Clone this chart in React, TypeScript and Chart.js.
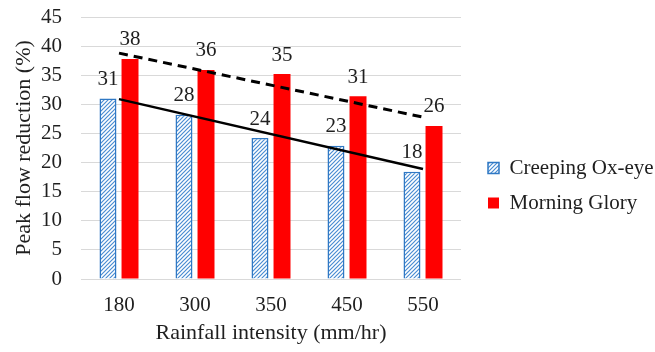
import React, { useEffect, useRef } from "react";
import { Chart, registerables } from "chart.js";

Chart.register(...registerables);

const categories = ["180", "300", "350", "450", "550"];
const creepingOxEye = [31, 28.2, 24.2, 22.9, 18.4];
const morningGlory = [37.8, 35.9, 35.2, 31.4, 26.3];
const creepingTrend = [30.9, null, null, null, 18.9];
const morningTrend = [38.8, null, null, null, 27.8];
const yTicks = [0, 5, 10, 15, 20, 25, 30, 35, 40, 45];

const FONT = "'Liberation Serif', 'Times New Roman', serif";
const TEXT = "#1f1f1f";

function makeHatch(): CanvasPattern | string {
  const n = 4;
  const c = document.createElement("canvas");
  c.width = n;
  c.height = n;
  const g = c.getContext("2d");
  if (!g) return "#9dc3e6";
  g.fillStyle = "#ffffff";
  g.fillRect(0, 0, n, n);
  g.strokeStyle = "#4a8cd2";
  g.lineWidth = 1.2;
  g.beginPath();
  g.moveTo(0, n);
  g.lineTo(n, 0);
  g.moveTo(-1, 1);
  g.lineTo(1, -1);
  g.moveTo(n - 1, n + 1);
  g.lineTo(n + 1, n - 1);
  g.stroke();
  return g.createPattern(c, "repeat") || "#9dc3e6";
}

const valueLabels = {
  id: "valueLabels",
  afterDatasetsDraw(chart: any) {
    const ctx = chart.ctx;
    ctx.save();
    ctx.font = `21px ${FONT}`;
    ctx.fillStyle = TEXT;
    ctx.textAlign = "center";
    ctx.textBaseline = "middle";
    chart.data.datasets.forEach((ds: any, i: number) => {
      if (ds.type !== "bar") return;
      const meta = chart.getDatasetMeta(i);
      meta.data.forEach((el: any, j: number) => {
        const v = ds.data[j];
        ctx.fillText(String(Math.round(v)), el.x, el.y - 19);
      });
    });
    ctx.restore();
  },
};

export default function App() {
  const ref = useRef<HTMLCanvasElement | null>(null);

  useEffect(() => {
    if (!ref.current) return;
    const hatch = makeHatch();
    const chart = new Chart(ref.current, {
      type: "bar",
      data: {
        labels: categories,
        datasets: [
          {
            type: "line",
            label: "trendCreeping",
            data: creepingTrend,
            borderColor: "#000000",
            borderWidth: 2.5,
            pointRadius: 0,
            spanGaps: true,
            fill: false,
            order: 0,
          } as any,
          {
            type: "line",
            label: "trendMorning",
            data: morningTrend,
            borderColor: "#000000",
            borderWidth: 3,
            borderDash: [9, 6],
            pointRadius: 0,
            spanGaps: true,
            fill: false,
            order: 0,
          } as any,
          {
            type: "bar",
            label: "Creeping Ox-eye",
            data: creepingOxEye,
            backgroundColor: hatch as any,
            borderColor: "#2f78c4",
            borderWidth: 1.5,
            categoryPercentage: 0.58,
            barPercentage: 0.77,
            order: 1,
          } as any,
          {
            type: "bar",
            label: "Morning Glory",
            data: morningGlory,
            backgroundColor: "#ff0000",
            borderWidth: 0,
            categoryPercentage: 0.58,
            barPercentage: 0.77,
            order: 1,
          } as any,
        ],
      },
      options: {
        responsive: false,
        animation: false,
        layout: { padding: { top: 17, bottom: 6, left: 11, right: 0 } },
        plugins: {
          tooltip: { enabled: false },
          legend: {
            position: "right",
            align: "center",
            maxWidth: 181,
            title: { display: true, text: "", font: { size: 8, lineHeight: 1 }, padding: 0 },
            labels: {
              boxWidth: 11,
              boxHeight: 11,
              padding: 14,
              color: TEXT,
              font: { family: FONT, size: 21 },
              filter: (item: any) => !String(item.text).startsWith("trend"),
            },
          },
        },
        scales: {
          x: {
            afterFit: (s: any) => {
              s.height = 67;
            },
            grid: { display: false, drawTicks: false },
            border: { display: false },
            ticks: { color: TEXT, font: { family: FONT, size: 21 }, padding: 14, maxRotation: 0 },
            title: {
              display: true,
              text: "Rainfall intensity (mm/hr)",
              color: TEXT,
              font: { family: FONT, size: 22 },
              padding: 0,
            },
          },
          y: {
            min: 0,
            max: 45,
            afterFit: (s: any) => {
              s.width = 70;
              s.paddingTop = 0;
              s.paddingBottom = 0;
            },
            afterBuildTicks: (s: any) => {
              s.ticks = yTicks.map((v) => ({ value: v }));
            },
            grid: { color: "#d9d9d9", lineWidth: 1, drawTicks: false },
            border: { display: false },
            ticks: { color: TEXT, font: { family: FONT, size: 21 }, padding: 19, autoSkip: false },
            title: {
              display: true,
              text: "Peak flow reduction (%)",
              color: TEXT,
              font: { family: FONT, size: 22 },
              padding: 0,
            },
          },
          y2: {
            position: "right",
            display: true,
            afterFit: (s: any) => {
              s.width = 13;
              s.paddingTop = 0;
              s.paddingBottom = 0;
            },
            grid: { display: false, drawTicks: false },
            border: { display: false },
            ticks: { display: false },
          },
        },
      },
      plugins: [valueLabels],
    } as any);
    return () => chart.destroy();
  }, []);

  return (
    <div style={{ position: "fixed", left: 0, top: 0, width: 655, height: 352, background: "#fff" }}>
      <canvas ref={ref} width={655} height={352} style={{ display: "block" }} />
    </div>
  );
}
